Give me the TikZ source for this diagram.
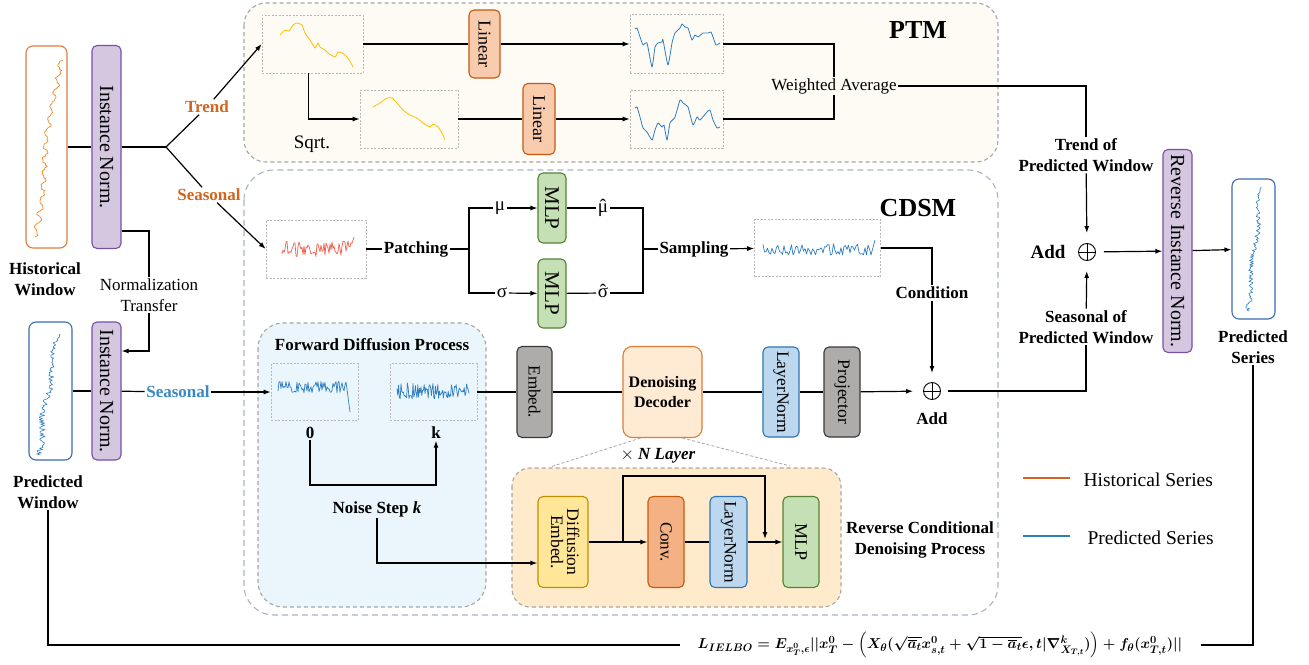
\documentclass[tikz,border=0pt]{standalone}
\usepackage{amsmath}
\usepackage{graphicx}
\usepackage{fontspec}
\setmainfont{Liberation Serif}
\usetikzlibrary{arrows.meta}
\newcommand{\fsz}[2]{\fontsize{#1}{#2}\selectfont}
\newcommand{\hatch}[1]{\ooalign{#1\cr\hidewidth ˆ\hidewidth\cr}}
\newsavebox{\formbox}
\definecolor{ptmfill}{HTML}{FEFAF4}
\definecolor{dashg}{HTML}{A6A6A6}
\definecolor{cdsmb}{HTML}{A9B4C6}
\definecolor{fwdfill}{HTML}{EAF6FC}
\definecolor{nlfill}{HTML}{FFEBCB}
\definecolor{purf}{HTML}{D5C7E0}
\definecolor{purd}{HTML}{7A4FA8}
\definecolor{linf}{HTML}{F8CBAD}
\definecolor{lind}{HTML}{C55A11}
\definecolor{mlpf}{HTML}{C5E0B4}
\definecolor{mlpd}{HTML}{548235}
\definecolor{gryf}{HTML}{AEABAB}
\definecolor{gryd}{HTML}{3B3838}
\definecolor{decf}{HTML}{FFEBD3}
\definecolor{decd}{HTML}{E07B39}
\definecolor{dembf}{HTML}{FFE699}
\definecolor{dembd}{HTML}{BF9000}
\definecolor{convf}{HTML}{F4B183}
\definecolor{lnf}{HTML}{BDD7EE}
\definecolor{lnd}{HTML}{2E75B6}
\definecolor{orser}{HTML}{F08A24}
\definecolor{blser}{HTML}{2E7EC1}
\definecolor{trendc}{HTML}{D0661E}
\definecolor{seasb}{HTML}{3B88C4}
\definecolor{yel}{HTML}{FFC000}
\definecolor{redser}{HTML}{F2604A}
\definecolor{histd}{HTML}{E07B39}
\definecolor{blbox}{HTML}{3A6DB0}
\definecolor{legor}{HTML}{D0661E}
\begin{document}
\sbox{\formbox}{\fontsize{15.5}{18}\selectfont\boldmath$L_{IELBO}=E_{x_T^0,\epsilon}\vert\vert x_T^0-\Bigl(X_\theta(\sqrt{\overline{a}_t}x_{s,t}^0+\sqrt{1-\overline{a}_t}\epsilon,t\vert\nabla^k_{X_{T,t}})\Bigr)+f_\theta(x^0_{T,t})\vert\vert$}%
\begin{tikzpicture}[x=1pt,y=-1pt,
  blk/.style={draw, rounded corners=5pt, line width=1.1pt, inner sep=0pt, align=center, font=\fsz{17}{20}},
  sbox/.style={draw=dashg!80, dash pattern=on 2pt off 1.5pt, line width=0.6pt, inner sep=0pt},
  lbl/.style={font=\fsz{17}{21}, align=center, inner sep=1.5pt},
  blbl/.style={font=\bfseries\fsz{17}{21}, align=center, inner sep=1.5pt},
  conn/.style={line width=1.2pt},
  arr/.style={line width=1.2pt, -{Latex[length=7pt,width=5pt]}},
  ser/.style={line width=0.8pt, line join=round},
  addc/.style={circle, draw, line width=0.9pt, minimum size=17pt, inner sep=0pt,
    path picture={\draw[line width=0.9pt] (path picture bounding box.north) -- (path picture bounding box.south) (path picture bounding box.west) -- (path picture bounding box.east);}},
  bigbox/.style={line width=1.1pt, dash pattern=on 4pt off 3pt}
]
\pgfmathsetseed{17}
\useasboundingbox (0,0) rectangle (1309,664);
\fill[white] (0,0) rectangle (1309,664);

% containers
\draw[bigbox, draw=dashg, fill=ptmfill, rounded corners=22pt] (244,3) rectangle (998,162);
\draw[bigbox, draw=cdsmb, dash pattern=on 6pt off 4pt, rounded corners=30pt] (244,170) rectangle (998,615);
\draw[bigbox, draw=dashg, fill=fwdfill, rounded corners=25pt] (258,323) rectangle (486,607);
\draw[bigbox, draw=dashg, fill=nlfill, rounded corners=18pt] (512,468) rectangle (841,607);

\node[font=\bfseries\fsz{26}{28}] (ptm) at (918,30) {PTM};
\node[font=\bfseries\fsz{26}{28}] (cdsm) at (918,208) {CDSM};

% left side
\node[blk, draw=histd, rounded corners=7pt, minimum width=41pt, minimum height=202pt] (hist) at (46.5,147) {};
\draw[orser, ser, line width=0.7pt] plot[variable=\i, domain=0:118, samples=119] ({35+\i*0.2+2*(rnd-0.5)+2.2*sin(\i*40)+2*sin(\i*4)}, {237-\i*1.5});
\node[blk, draw=purd, fill=purf, minimum width=29pt, minimum height=203pt, font=\fsz{20}{22}] (in1) at (106.5,147) {\rotatebox{-90}{Instance Norm.}};
\node[blbl] (hwl) at (45,279) {Historical\\Window};
\node[blk, draw=blbox, rounded corners=7pt, minimum width=43pt, minimum height=138pt] (predw) at (50.5,391) {};
\draw[blser, ser, line width=0.6pt] plot[variable=\i, domain=0:110, samples=111] ({38+\i*0.17+6*(rnd-0.5)+2*sin(\i*7)}, {455-\i*1.1});
\node[blk, draw=purd, fill=purf, minimum width=29pt, minimum height=138pt, font=\fsz{20}{22}] (in2) at (106.5,391) {\rotatebox{-90}{Instance Norm.}};
\node[blbl] (pwl) at (48,492) {Predicted\\Window};
\node[lbl] (ntr) at (149,295) {Normalization\\Transfer};
\node[blbl, text=trendc] (trend) at (207,107) {Trend};
\node[blbl, text=trendc] (seas) at (209,195) {Seasonal};
\node[blbl, text=seasb] (seas2) at (178,392) {Seasonal};
\coordinate (br) at (166,147);

\draw[conn] (hist) -- (in1);
\draw[conn] (in1) -- (br);
\draw[conn] (br) -- (trend);
\draw[conn] (br) -- (seas);
\draw[conn] ([yshift=18pt]in1.south east) -| (ntr.north);
\draw[arr] (ntr.south) |- ([yshift=40pt]in2.east);
\draw[conn] (predw) -- (in2);
\draw[conn] (in2) -- (seas2);

% PTM
\node[sbox, minimum width=101pt, minimum height=58pt] (tb1) at (312.5,44) {};
\draw[yel, ser] plot[smooth, tension=0.3] coordinates {(280,35) (285,30) (289,31) (293,25) (297,23) (302,25) (305,33) (310,40) (315,48) (318,43) (320,47) (325,50) (328,53) (335,57) (338,52) (342,53) (345,55) (348,58) (352,65) (353,67)};
\node[blk, draw=lind, fill=linf, minimum width=31pt, minimum height=68pt, font=\fsz{18}{20}] (lin1) at (484.5,44) {\rotatebox{-90}{Linear}};
\node[sbox, minimum width=93pt, minimum height=59pt] (ob1) at (676.5,44) {};
\draw[blser, ser] plot[smooth, tension=0.3] coordinates {(635,29) (637,28) (640,37) (643,45) (647,43) (652,67) (655,47) (658,43) (662,42) (663,40) (668,65) (672,43) (675,33) (680,28) (682,24) (685,27) (688,28) (692,40) (695,35) (698,37) (703,33) (708,33) (711,32) (713,37) (716,45) (720,43)};
\node[sbox, minimum width=98pt, minimum height=58pt] (tb2) at (409,119) {};
\draw[yel, ser] plot[smooth, tension=0.3] coordinates {(373,107) (380,103) (387,98) (392,98) (397,103) (403,110) (410,115) (417,118) (423,123) (430,127) (433,124) (438,127) (442,133) (445,140)};
\node[blk, draw=lind, fill=linf, minimum width=32pt, minimum height=71pt, font=\fsz{18}{20}] (lin2) at (539,119) {\rotatebox{-90}{Linear}};
\node[sbox, minimum width=93pt, minimum height=58pt] (ob2) at (676.5,119) {};
\draw[blser, ser] plot[smooth, tension=0.3] coordinates {(635,108) (637,107) (640,117) (643,128) (647,132) (652,140) (655,130) (658,123) (662,127) (664,125) (667,140) (670,123) (675,117) (680,100) (683,103) (688,107) (693,125) (697,117) (700,120) (707,112) (710,110) (713,120) (717,128) (720,127)};
\node[lbl, font=\fsz{19}{21}] (sqrt) at (312,144) {Sqrt.};
\node[lbl] (wavg) at (834,86) {Weighted Average};

\draw[arr] (trend) -- (tb1.west);
\draw[conn] (tb1) -- (lin1);
\draw[arr] (lin1) -- (ob1);
\draw[arr] ([xshift=-4pt]tb1.south) |- (tb2.west);
\draw[conn] (tb2) -- (lin2);
\draw[arr] (lin2) -- (ob2);
\draw[conn] (ob1) -| (wavg);
\draw[conn] (ob2) -| (wavg);

% right side
\node[blbl] (trendpw) at (1086,155) {Trend of\\Predicted Window};
\node[addc] (add2) at (1087,252) {};
\node[blbl, font=\bfseries\fsz{19}{21}] (addl2) at (1048,252) {Add};
\node[blbl] (seaspw) at (1086,327) {Seasonal of\\Predicted Window};
\node[blk, draw=purd, fill=purf, minimum width=29pt, minimum height=203pt, font=\fsz{20}{22}] (rin) at (1177.5,251) {\rotatebox{-90}{Reverse Instance Norm.}};
\node[blk, draw=blbox, rounded corners=7pt, minimum width=43pt, minimum height=140pt] (ps) at (1253.5,249) {};
\draw[blser, ser, line width=0.6pt] plot[variable=\i, domain=0:113, samples=114] ({1247+\i*0.13+5*(rnd-0.5)+1.5*sin(\i*6)}, {311-\i*1.1});
\node[blbl] (psl) at (1253,347) {Predicted\\Series};

\draw[conn] (wavg) -| (trendpw);
\draw[arr, shorten >=10pt] (trendpw) -- (add2);
\draw[arr, shorten >=10pt] (seaspw) -- (add2);
\draw[arr, shorten <=8pt] (add2) -- (rin);
\draw[arr] (rin) -- (ps);

% legend
\coordinate (lg1a) at (1023,478); \coordinate (lg1b) at (1070,478);
\coordinate (lg2a) at (1023,536); \coordinate (lg2b) at (1070,536);
\draw[legor, line width=1.3pt] (lg1a) -- (lg1b);
\draw[blser, line width=1.3pt] (lg2a) -- (lg2b);
\node[anchor=west, font=\fsz{19.5}{22}] (lg1) at (1080,480) {Historical Series};
\node[anchor=west, font=\fsz{19.5}{22}] (lg2) at (1084,538) {Predicted Series};

% CDSM top row
\node[sbox, minimum width=100pt, minimum height=58pt] (sb) at (316,249) {};
\draw[redser, ser, line width=0.7pt] plot[variable=\i, domain=0:70, samples=71] ({282+\i}, {249+16*(rnd-0.5)}) -- (354,237);
\node[blbl] (patch) at (416,249) {Patching};
\node[lbl, font=\fsz{19}{21}] (mu) at (500,208) {μ};
\node[lbl, font=\fsz{19}{21}] (sigma) at (502,293) {σ};
\node[blk, draw=mlpd, fill=mlpf, minimum width=28pt, minimum height=70pt, font=\fsz{21}{22}] (mlp1) at (552,208) {\rotatebox{-90}{MLP}};
\node[blk, draw=mlpd, fill=mlpf, minimum width=28pt, minimum height=69pt, font=\fsz{21}{22}] (mlp2) at (552,293.5) {\rotatebox{-90}{MLP}};
\node[lbl, font=\fsz{19}{21}] (muhat) at (603,208) {\hatch{μ}};
\node[lbl, font=\fsz{19}{21}] (sighat) at (603,293) {\hatch{σ}};
\node[blbl] (sampling) at (694,249) {Sampling};
\node[sbox, minimum width=126pt, minimum height=57pt] (smp) at (817.5,248) {};
\draw[blser, ser, line width=0.7pt] plot[variable=\i, domain=0:72, samples=73] ({763+\i*1.5}, {249+12*(rnd-0.5)}) -- (875,240);
\node[blbl] (condition) at (932,293) {Condition};
\node[addc] (add1) at (932,391) {};
\node[blbl] (addl1) at (932,419) {Add};
\coordinate (j1) at (469,249);
\coordinate (j2) at (643,249);

\draw[arr] (seas) -- (sb.west);
\draw[conn] (sb) -- (patch);
\draw[conn] (patch) -- (j1);
\draw[conn] (mu) -| (j1) |- (sigma);
\draw[arr] (mu) -- (mlp1);
\draw[arr] (sigma) -- (mlp2);
\draw[conn] (mlp1) -- (muhat);
\draw[conn] (mlp2) -- (sighat);
\draw[conn] (muhat) -| (j2) |- (sighat);
\draw[conn] (j2) -- (sampling);
\draw[arr] (sampling) -- (smp);
\draw[conn] (smp) -| (condition);
\draw[arr, shorten >=9pt] (condition) -- (add1);

% forward diffusion
\node[font=\bfseries\fsz{17}{20}] (fwdt) at (372,345) {Forward Diffusion Process};
\node[sbox, minimum width=87pt, minimum height=57pt] (b0) at (314.5,392) {};
\draw[blser, ser, line width=0.7pt] plot[variable=\i, domain=0:68, samples=69] ({278+\i}, {387+12*(rnd-0.5)}) -- (350,412);
\node[sbox, minimum width=87pt, minimum height=57pt] (bk) at (433.5,392) {};
\draw[blser, ser, line width=0.7pt] plot[variable=\i, domain=0:90, samples=91] ({397+\i*0.8}, {391+16*(rnd-0.5)});
\node[blbl] (lbl0) at (310,433) {0};
\node[blbl] (lblk) at (436,433) {k};
\coordinate (fc) at (373,485);
\node[blbl] (noise) at (377,509) {Noise Step \textit{k}};

\draw[arr] (seas2) -- (b0);
\draw[arr] (lbl0) |- (fc) -| (lblk);

% main row
\node[blk, draw=gryd, fill=gryf, minimum width=35pt, minimum height=91pt, font=\fsz{17}{20}] (embed) at (534.5,392) {\rotatebox{-90}{Embed.}};
\node[blk, draw=decd, fill=decf, rounded corners=9pt, minimum width=79pt, minimum height=91pt, font=\bfseries\fsz{16}{20}] (dec) at (662.5,392) {Denoising\\Decoder};
\node[blk, draw=lnd, fill=lnf, minimum width=36pt, minimum height=90pt, font=\fsz{17.5}{20}] (ln1) at (781,392) {\rotatebox{-90}{LayerNorm}};
\node[blk, draw=gryd, fill=gryf, minimum width=36pt, minimum height=90pt, font=\fsz{17.5}{20}] (proj) at (842,392) {\rotatebox{-90}{Projector}};

\draw[conn] (bk) -- (embed);
\draw[conn] (embed) -- (dec);
\draw[conn] (dec) -- (ln1);
\draw[conn] (ln1) -- (proj);
\draw[arr, shorten >=10pt] (proj) -- (add1);
\draw[conn, shorten <=7pt] (add1) -| (seaspw);

% N layer
\coordinate (nlL) at (550,467);
\coordinate (nlR) at (790,466);
\draw[dashg, dash pattern=on 3pt off 2pt, line width=0.8pt] ([xshift=-22pt]dec.south) -- (nlL);
\draw[dashg, dash pattern=on 3pt off 2pt, line width=0.8pt] ([xshift=20pt]dec.south) -- (nlR);
\node[font=\fsz{17}{20}] (xn) at (658,456) {$\times$ \textbf{\textit{N Layer}}};
\node[blk, draw=dembd, fill=dembf, minimum width=50pt, minimum height=91pt, font=\fsz{17.5}{19}] (demb) at (563,542) {\rotatebox{-90}{\begin{tabular}{@{}c@{}}Diffusion\\[-3pt]Embed.\end{tabular}}};
\node[blk, draw=lind, fill=convf, minimum width=36pt, minimum height=91pt, font=\fsz{17}{20}] (conv) at (666,542) {\rotatebox{-90}{Conv.}};
\node[blk, draw=lnd, fill=lnf, minimum width=37pt, minimum height=91pt, font=\fsz{17.5}{20}] (ln2) at (728.5,542) {\rotatebox{-90}{LayerNorm}};
\node[blk, draw=mlpd, fill=mlpf, minimum width=36pt, minimum height=91pt, font=\fsz{18}{20}] (mlp3) at (801,542) {\rotatebox{-90}{MLP}};
\node[blbl] (rcdp) at (920,540) {Reverse Conditional\\Denoising Process};
\coordinate (j3) at (623,542);
\coordinate (sk) at (765,476);
\coordinate (sk2) at (765,539);

\draw[arr] (noise) |- ([yshift=-21pt]demb.west);
\draw[conn] (demb) -- (j3);
\draw[arr] (j3) -- (conv);
\draw[conn] (conv) -- (ln2);
\draw[arr] (ln2) -- (mlp3);
\draw[arr] (j3) |- (sk) -- (sk2);

% formula
\node[inner xsep=18pt] (form) at (940,645) {\usebox{\formbox}};
\draw[conn] (pwl) |- (form);
\draw[conn] (psl) |- (form);
\end{tikzpicture}
\end{document}
